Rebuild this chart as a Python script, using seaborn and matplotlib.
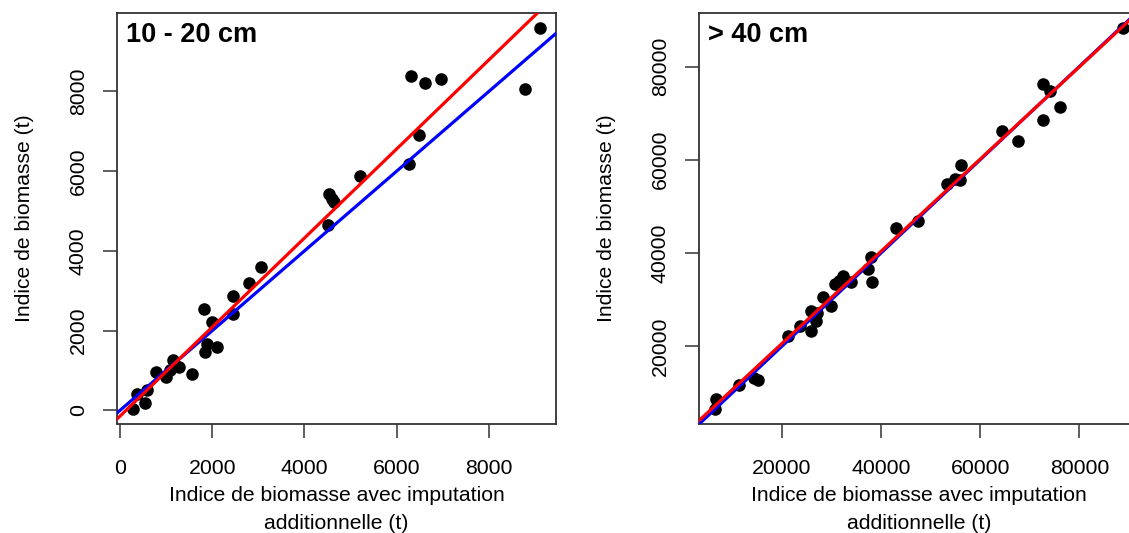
import matplotlib
matplotlib.use("Agg")
import matplotlib.pyplot as plt
import seaborn as sns
import numpy as np
import pandas as pd

sns.set_style("white")
plt.rcParams["font.family"] = ["Liberation Sans", "DejaVu Sans"]
plt.rcParams["text.color"] = "black"
plt.rcParams["axes.labelcolor"] = "black"
plt.rcParams["xtick.color"] = "black"
plt.rcParams["ytick.color"] = "black"

# -------------------------------
# Data
# -------------------------------
x_10_20 = [289, 375, 542, 578, 780, 997, 1083, 1155, 1285, 1553,
           1827, 1878, 1842, 1986, 2109, 2456, 2456, 2802, 3055,
           4514, 4536, 4587, 4644, 5200, 6269, 6305, 6479, 6609,
           6956, 8776, 9101]
y_10_20 = [42, 417, 192, 525, 975, 834, 1025, 1275, 1083, 917,
           2542, 1667, 1475, 2225, 1583, 2875, 2417, 3192, 3608,
           4650, 5417, 5308, 5225, 5875, 6167, 8392, 6900, 8208,
           8317, 8058, 9583]

x_40 = [6552, 6754, 11250, 14415, 15161, 21210, 23548, 25907, 25907,
        26855, 27056, 28185, 29879, 30605, 31411, 32298, 33972, 37339,
        37944, 38146, 43044, 47419, 53266, 54940, 55948, 56149, 64355,
        67573, 72748, 72748, 74093, 76109, 88750]
y_40 = [6571, 8571, 11635, 13071, 12642, 22135, 24428, 27491, 23357,
        25348, 27142, 30491, 28714, 33357, 34071, 35000, 33714, 36571,
        39142, 33714, 45357, 46928, 54785, 55928, 55714, 58785, 66214,
        64071, 76214, 68428, 74785, 71214, 88214]

# regression lines (intercept, slope) ; blue = 1:1
fit_10_20 = (-145, 1.117)
fit_40 = (800, 0.989)

ticks_10_20 = [0, 2000, 4000, 6000, 8000]
ticks_40 = [20000, 40000, 60000, 80000]

panels = [
    ("10 - 20 cm", x_10_20, y_10_20, fit_10_20, ticks_10_20, ticks_10_20),
    ("> 40 cm", x_40, y_40, fit_40, ticks_40, ticks_40),
]

xlab = "Indice de biomasse avec imputation\nadditionnelle (t)"
ylab = "Indice de biomasse (t)"

W, H = 1129, 533
fig = plt.figure(figsize=(W / 100, H / 100), dpi=100)

boxes = [(117, 13, 439, 411), (699, 13, 440, 411)]

for (title, xs, ys, fit, xt, yt), (bx, by, bw, bh) in zip(panels, boxes):
    ax = fig.add_axes([bx / W, 1 - (by + bh) / H, bw / W, bh / H])
    df = pd.DataFrame({"x": xs, "y": ys})

    sns.scatterplot(data=df, x="x", y="y", ax=ax, color="black",
                    s=82, edgecolor="black", linewidth=0, zorder=2)

    # R style axis range: data range + 4%
    xr = max(xs) - min(xs)
    yr = max(ys) - min(ys)
    ax.set_xlim(min(xs) - 0.04 * xr, max(xs) + 0.04 * xr)
    ax.set_ylim(min(ys) - 0.04 * yr, max(ys) + 0.04 * yr)

    ax.axline((0, 0), slope=1, color="#0000FF", lw=2.3, zorder=3)
    ax.axline((0, fit[0]), slope=fit[1], color="#FF0000", lw=2.3, zorder=4)

    ax.set_xticks(xt)
    ax.set_yticks(yt)
    ax.set_xticklabels([str(v) for v in xt], fontsize=15.3)
    ax.set_yticklabels([str(v) for v in yt], fontsize=15.3,
                       rotation=90, va="center")
    ax.tick_params(axis="both", direction="out", length=10, width=1.1,
                   color="#333333", bottom=True, left=True)
    ax.tick_params(axis="x", pad=15)
    ax.tick_params(axis="y", pad=11)

    for sp in ax.spines.values():
        sp.set_color("#333333")
        sp.set_linewidth(1.3)

    ax.set_xlabel(xlab, fontsize=15.2, labelpad=6, linespacing=1.58)
    ax.set_ylabel(ylab, fontsize=15.2, labelpad=25)

    ax.text(0.02, 0.947, title, transform=ax.transAxes, fontsize=19.5,
            fontweight="bold", ha="left", va="center")

fig.savefig("out.png", dpi=100)
